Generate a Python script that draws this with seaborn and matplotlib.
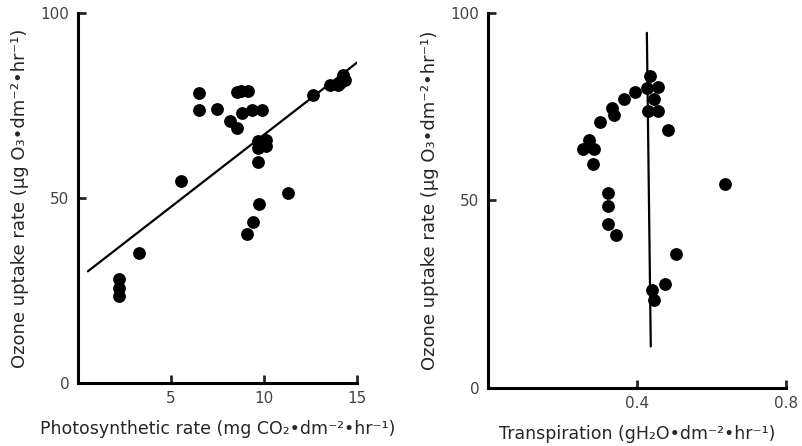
import numpy as np
import matplotlib
matplotlib.use("Agg")
import matplotlib.pyplot as plt
import seaborn as sns

# left panel: photosynthetic rate vs ozone uptake
photo_x = [2.23, 2.23, 2.23, 3.27, 5.52, 6.52, 6.52, 7.48, 8.18, 8.54,
           8.57, 8.80, 9.16, 8.75, 9.34, 9.88, 9.66, 9.66, 10.14, 10.14,
           9.66, 9.75, 9.43, 9.07, 11.3, 12.64, 13.54, 13.98, 14.25, 14.34,
           14.1]
photo_y = [28.1, 25.7, 23.4, 35.1, 54.5, 78.4, 73.9, 74.1, 70.7, 68.9,
           78.6, 73.0, 78.8, 78.8, 73.9, 73.9, 65.3, 63.5, 65.8, 64.0,
           59.6, 48.5, 43.4, 40.4, 51.4, 77.7, 80.4, 80.6, 83.3, 82.0,
           81.2]
fit_x = [0.54, 15.14]
fit_y = [30.2, 87.1]

# right panel: transpiration vs ozone uptake
trans_x = [0.255, 0.272, 0.284, 0.282, 0.302, 0.333, 0.338, 0.366, 0.396,
           0.436, 0.427, 0.456, 0.445, 0.431, 0.458, 0.483, 0.324, 0.324,
           0.324, 0.344, 0.505, 0.476, 0.440, 0.446, 0.637]
trans_y = [63.7, 66.2, 63.7, 59.8, 70.8, 74.7, 72.9, 77.1, 78.8,
           83.3, 80.0, 80.3, 77.1, 73.8, 73.8, 68.7, 52.0, 48.6,
           43.7, 40.9, 35.6, 27.8, 26.0, 23.4, 54.5]
vline_x = [0.427, 0.4375]
vline_y = [94.7, 11.1]

sns.set_style("ticks")
plt.rcParams['font.family'] = ['DejaVu Sans']

fig = plt.figure(figsize=(8.02, 4.46), dpi=100)
ax1 = fig.add_axes([0.097, 0.141, 0.348, 0.830])
ax2 = fig.add_axes([0.608, 0.130, 0.372, 0.841])


def style_axis(ax, xlim, xticks, xticklabels):
    ax.set_xlim(*xlim)
    ax.set_ylim(0, 100)
    ax.set_xticks(xticks)
    ax.set_xticklabels(xticklabels)
    ax.set_yticks([0, 50, 100])
    for side in ['top', 'right']:
        ax.spines[side].set_visible(False)
    for side in ['left', 'bottom']:
        ax.spines[side].set_linewidth(2.2)
        ax.spines[side].set_color('black')
    ax.tick_params(direction='in', length=6, width=2, labelsize=11,
                   labelcolor='#444444', pad=6)


sns.scatterplot(x=photo_x, y=photo_y, ax=ax1, s=85, color='black',
                edgecolor='black', linewidth=0, clip_on=False, zorder=3)
sns.lineplot(x=fit_x, y=fit_y, ax=ax1, color='black', linewidth=1.6,
             estimator=None, sort=False)
style_axis(ax1, (0, 15), [0, 5, 10, 15], ['', '5', '10', '15'])
ax1.set_xlabel('Photosynthetic rate (mg CO₂•dm⁻²•hr⁻¹)', fontsize=12.5, labelpad=10)
ax1.set_ylabel('Ozone uptake rate (μg O₃•dm⁻²•hr⁻¹)', fontsize=13, labelpad=8)

sns.scatterplot(x=trans_x, y=trans_y, ax=ax2, s=85, color='black',
                edgecolor='black', linewidth=0, clip_on=False, zorder=3)
sns.lineplot(x=vline_x, y=vline_y, ax=ax2, color='black', linewidth=1.6,
             estimator=None, sort=False)
style_axis(ax2, (0, 0.8), [0, 0.4, 0.8], ['', '0.4', '0.8'])
ax2.set_xlabel('Transpiration (gH₂O•dm⁻²•hr⁻¹)', fontsize=12.5, labelpad=10)
ax2.set_ylabel('Ozone uptake rate (μg O₃•dm⁻²•hr⁻¹)', fontsize=13, labelpad=8)

fig.savefig('out.png', dpi=100)
